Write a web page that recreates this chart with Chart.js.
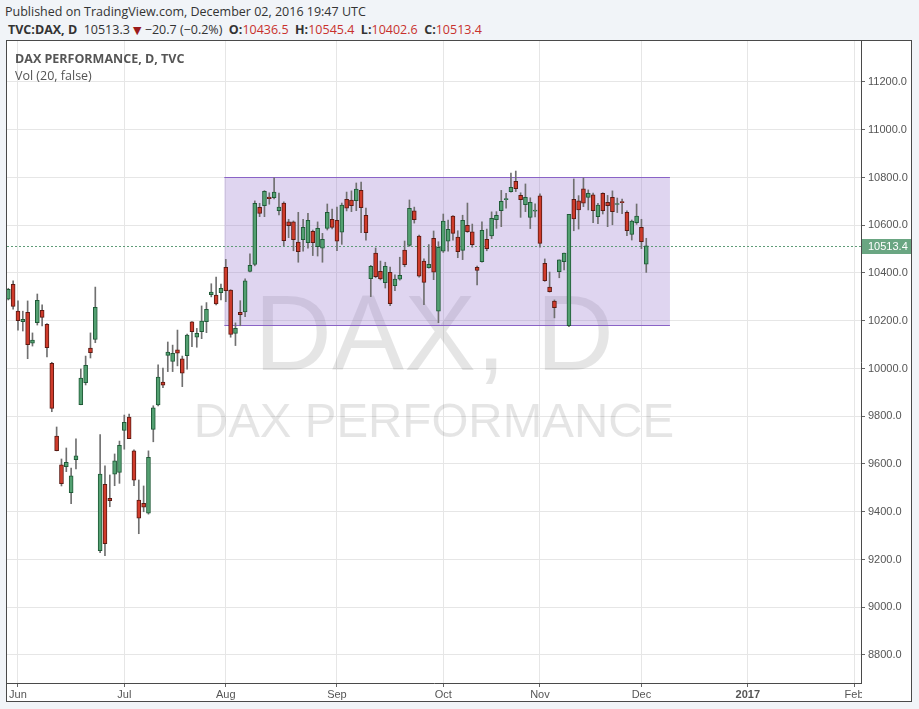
<!DOCTYPE html>
<html><head><meta charset="utf-8">
<script src="https://cdn.jsdelivr.net/npm/chart.js@4.4.0/dist/chart.umd.min.js"></script>
<style>
html,body{margin:0;padding:0;background:#f1f4f8;width:919px;height:709px;overflow:hidden;font-family:"Open Sans",sans-serif;}
.hdr{position:absolute;left:5px;font-size:12.5px;color:#333;white-space:nowrap;}
#h1{top:3px;}
#h2{top:21px;left:8px;}
#h2 b{font-weight:bold;}
#h2 .r{color:#c8312d;}
#h2 .t{color:#9b1b1b;font-family:"DejaVu Sans";font-size:11px;}
#frame{position:absolute;left:6px;top:40px;width:906px;height:662px;border:1px solid #4a4a4a;box-sizing:border-box;background:#fff;}
#wrap{position:absolute;left:7px;top:41px;width:904px;height:660px;}
#t1{position:absolute;left:15px;top:50px;font-size:12.5px;color:#555;font-weight:bold;z-index:3;}
#t2{position:absolute;left:15px;top:67px;font-size:12.5px;color:#555;z-index:3;}
</style></head>
<body>
<div id="h1" class="hdr">Published on TradingView.com, December 02, 2016 19:47 UTC</div>
<div id="h2" class="hdr"><b>TVC:DAX, D</b>&nbsp; 10513.3 <span class="t">▼</span> −20.7 (−0.2%)&nbsp; <b>O:</b><span class="r">10436.5</span>&nbsp; <b>H:</b><span class="r">10545.4</span>&nbsp; <b>L:</b><span class="r">10402.6</span>&nbsp; <b>C:</b><span class="r">10513.4</span></div>
<div id="frame"></div>
<div id="wrap"><canvas id="c" width="904" height="660"></canvas></div>
<div id="t1">DAX PERFORMANCE, D, TVC</div>
<div id="t2">Vol (20, false)</div>
<script>
// Daily OHLC, bar index 0 = 30 May 2016 ... 132 = 2 Dec 2016
const opens  = [10290,10353,10240,10196,10235,10106,10192,10244,10185,10022,9717,9596,9589,9480,9618,9848,9941,10085,10122,9237,9515,9456,9557,9565,9741,9796,9655,9449,9435,9394,9745,9847,9943,10055,10030,10078,10040,10054,10195,10131,10154,10196,10309,10307,10318,10424,10328,10147,10235,10237,10407,10436,10675,10682,10718,10715,10661,10693,10614,10614,10529,10540,10527,10575,10510,10504,10587,10625,10621,10571,10709,10705,10703,10746,10642,10376,10483,10407,10359,10403,10347,10374,10496,10516,10660,10555,10450,10422,10545,10240,10491,10533,10638,10550,10495,10600,10572,10424,10447,10541,10555,10623,10661,10707,10741,10784,10725,10686,10633,10659,10723,10441,10341,10282,10406,10447,10179,10709,10702,10752,10717,10727,10636,10734,10696,10717,10687,10697,10654,10562,10611,10591,10436.5];
const highs  = [10336,10367,10283,10240,10283,10149,10312,10267,10188,10026,9755,9621,9667,9583,9705,9998,10052,10149,10341,9723,9592,9554,9642,9696,9805,9809,9659,9533,9508,9655,9844,10015,10002,10111,10098,10161,10052,10144,10196,10168,10262,10276,10355,10383,10354,10457,10330,10191,10284,10376,10480,10702,10692,10745,10736,10799,10735,10698,10625,10618,10654,10625,10650,10580,10614,10566,10689,10668,10676,10693,10739,10744,10777,10781,10672,10432,10505,10450,10445,10425,10392,10466,10534,10706,10676,10559,10459,10519,10576,10531,10647,10622,10640,10577,10642,10693,10605,10429,10614,10584,10656,10657,10746,10734,10818,10827,10736,10773,10715,10690,10732,10459,10404,10287,10455,10483,10646,10794,10724,10798,10748,10735,10692,10736,10725,10744,10714,10710,10660,10622,10689,10625,10545.4];
const lows   = [10287,10248,10161,10157,10041,10094,10182,10178,10049,9819,9655,9508,9568,9434,9579,9848,9931,10044,10108,9229,9216,9421,9509,9519,9662,9706,9509,9308,9400,9390,9693,9843,9920,9987,9987,10011,9924,9997,10091,10089,10125,10150,10300,10266,10287,10280,10131,10096,10179,10217,10405,10430,10636,10636,10688,10710,10643,10514,10548,10493,10445,10491,10504,10473,10471,10445,10580,10585,10493,10520,10660,10657,10661,10569,10538,10301,10380,10371,10337,10263,10326,10370,10426,10512,10609,10382,10267,10420,10372,10192,10486,10491,10538,10464,10456,10570,10508,10350,10445,10493,10544,10587,10594,10672,10739,10741,10633,10657,10586,10635,10508,10365,10320,10212,10380,10413,10175,10577,10584,10678,10664,10611,10607,10647,10594,10602,10653,10648,10556,10538,10604,10502,10402.6];
const closes = [10332,10260,10200,10206,10100,10119,10286,10214,10087,9833,9656,9518,9607,9550,9634,9960,10013,10066,10256,9558,9266,9446,9613,9678,9775,9706,9532,9373,9419,9628,9835,9964,9930,10069,10064,10064,9980,10140,10154,10147,10199,10248,10320,10270,10336,10326,10143,10168,10225,10367,10432,10692,10650,10742,10711,10739,10676,10535,10598,10540,10489,10591,10621,10527,10587,10541,10654,10591,10533,10684,10671,10682,10751,10674,10569,10428,10385,10375,10428,10271,10374,10390,10435,10671,10623,10387,10361,10436,10403,10508,10617,10583,10566,10489,10621,10573,10519,10411,10579,10502,10629,10642,10700,10709,10759,10753,10707,10717,10696,10662,10524,10368,10322,10255,10455,10483,10646,10627,10664,10692,10734,10661,10684,10661,10682,10657,10689,10695,10577,10617,10638,10531,10513.4];

// Time axis: month labels and the bar index where each starts
const monthLabels = ['Jun','Jul','Aug','Sep','Oct','Nov','Dec','2017','Feb'];
const monthIndex  = [2,24,45,68,90,110,131,153,175];
// Price axis ticks
const priceTicks = [8800,9000,9200,9400,9600,9800,10000,10200,10400,10600,10800,11000,11200];
// Range box drawing (bar index from/to, price low/high)
const boxFrom = 44.7, boxTo = 136.9, boxLow = 10181, boxHigh = 10800;
const watermark = ['DAX, D','DAX PERFORMANCE'];

const UP='#53a071', UPB='#1f5a37', DN='#cf3b2b', DNB='#5b1a13';
const isUp = i => closes[i] >= opens[i];

const wickData = opens.map((o,i)=>({x:i, y:[lows[i], highs[i]]}));
const bodyData = opens.map((o,i)=>({x:i, y:[o, closes[i]]}));

const noPad = s => { s.paddingTop=0; s.paddingBottom=0; s.paddingLeft=0; s.paddingRight=0; };

const overlay = {
  id:'overlay',
  beforeDatasetsDraw(chart){
    const {ctx, chartArea:a, scales:{x,y}} = chart;
    ctx.save();
    ctx.beginPath(); ctx.rect(a.left,a.top,a.right-a.left,a.bottom-a.top); ctx.clip();
    const cx=(a.left+a.right)/2;
    ctx.fillStyle='rgba(0,0,0,0.1)'; ctx.textAlign='center'; ctx.textBaseline='alphabetic';
    ctx.font='108px "Liberation Sans"';
    ctx.fillText(watermark[0], cx, a.top+329);
    ctx.font='47.5px "Liberation Sans"';
    ctx.fillText(watermark[1], cx, a.top+396);
    // box
    const x1=x.getPixelForValue(boxFrom), x2=x.getPixelForValue(boxTo);
    const yt=y.getPixelForValue(boxHigh), yb=y.getPixelForValue(boxLow);
    ctx.fillStyle='rgba(149,117,205,0.3)';
    ctx.fillRect(x1,yt,x2-x1,yb-yt);
    ctx.strokeStyle='#8a63c6'; ctx.lineWidth=1;
    const yt5=Math.round(yt)+0.5, yb5=Math.round(yb)+0.5;
    ctx.beginPath(); ctx.moveTo(x1,yt5); ctx.lineTo(x2,yt5); ctx.moveTo(x1,yb5); ctx.lineTo(x2,yb5); ctx.stroke();
    // last price line
    const py=Math.round(y.getPixelForValue(closes[closes.length-1]))+0.5;
    ctx.strokeStyle='#5f9c78'; ctx.lineWidth=1; ctx.setLineDash([2,2]);
    ctx.beginPath(); ctx.moveTo(a.left,py); ctx.lineTo(a.right,py); ctx.stroke();
    ctx.restore();
  },
  afterDraw(chart){
    const {ctx, chartArea:a, scales:{y}} = chart;
    ctx.save();
    ctx.fillStyle='#fff';
    ctx.fillRect(a.right+1, a.bottom+1, chart.width-a.right, chart.height-a.bottom);
    const last=closes[closes.length-1];
    const py=Math.round(y.getPixelForValue(last));
    ctx.fillStyle='#6aa682';
    ctx.fillRect(a.right+1, py-7, chart.width-a.right-1, 15);
    ctx.fillStyle='#fff'; ctx.font='11px "Liberation Sans"'; ctx.textBaseline='middle'; ctx.textAlign='left';
    ctx.fillText(last.toFixed(1), a.right+7, py+0.5);
    ctx.restore();
  }
};

new Chart(document.getElementById('c'), {
  type:'bar',
  data:{datasets:[
    {data:wickData, backgroundColor:'#707070', borderWidth:0, barThickness:1, grouped:false, order:2},
    {data:bodyData, backgroundColor:c=>isUp(c.dataIndex)?UP:DN, borderColor:c=>isUp(c.dataIndex)?UPB:DNB,
     borderWidth:1, borderSkipped:false, barThickness:4, minBarLength:1, grouped:false, order:1}
  ]},
  options:{
    responsive:false, animation:false, maintainAspectRatio:false,
    layout:{padding:0},
    plugins:{legend:{display:false}, tooltip:{enabled:false}},
    scales:{
      x:{type:'linear', min:-0.27, max:176.43, offset:false,
         grid:{color:'#e6e6e6', tickColor:'#666', tickLength:4, offset:false},
         border:{color:'#4a4a4a'},
         afterBuildTicks:s=>{s.ticks=monthIndex.map(v=>({value:v}));},
         afterFit:s=>{s.height=18; noPad(s);},
         ticks:{autoSkip:false, maxRotation:0, padding:1, color:'#555',
           font:c=>({family:'"Liberation Sans"', size:11, weight:(c.tick&&c.tick.label==='2017')?'bold':'normal'}),
           callback:v=>monthLabels[monthIndex.indexOf(v)]}},
      y:{type:'linear', position:'right', min:8682.7, max:11371.7,
         grid:{color:'#e6e6e6', tickColor:'#666', tickLength:4},
         border:{color:'#4a4a4a'},
         afterBuildTicks:s=>{s.ticks=priceTicks.map(v=>({value:v}));},
         afterFit:s=>{s.width=50; noPad(s);},
         ticks:{padding:3, color:'#555', font:{family:'"Liberation Sans"', size:11},
           callback:v=>Number(v).toFixed(1)}}
    }
  },
  plugins:[overlay]
});
</script>
</body></html>
